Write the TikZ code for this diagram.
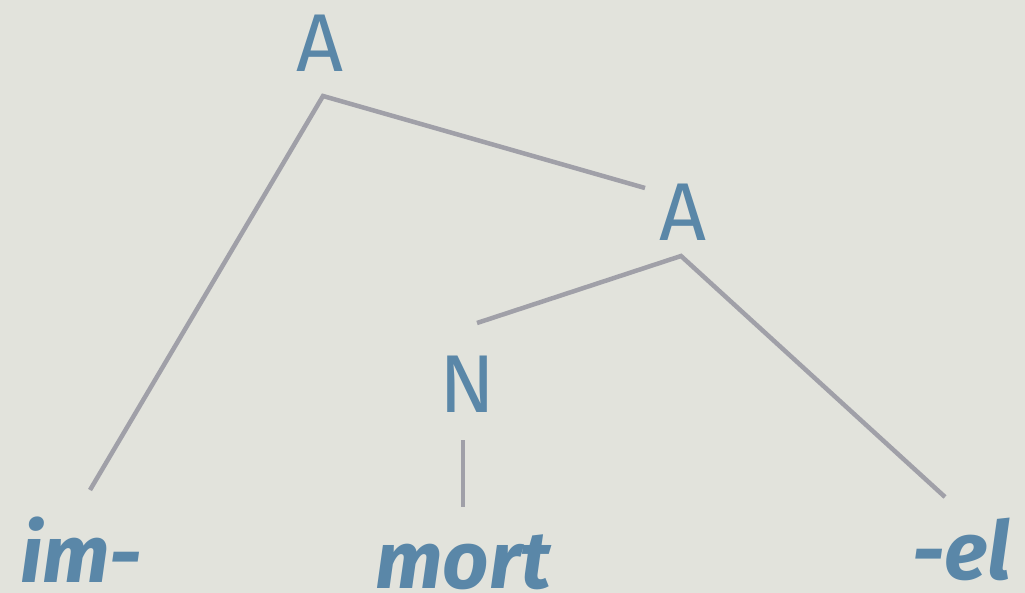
\documentclass[tikz,border=0pt]{standalone}
\usepackage{fontspec}
\setmainfont{Fira Sans}
\definecolor{bgc}{RGB}{226,227,220}
\definecolor{txc}{RGB}{90,135,168}
\definecolor{lnc}{RGB}{160,160,168}
\begin{document}
\begin{tikzpicture}[x=1pt,y=-1pt,
  cat/.style={inner sep=0pt,anchor=base,text=txc,font=\fontsize{82}{90}\selectfont},
  morph/.style={inner sep=0pt,anchor=base west,text=txc,font=\fontsize{81}{90}\selectfont\bfseries\itshape},
  branch/.style={draw=lnc,line width=4.5pt}]
\fill[bgc] (0,0) rectangle (1025,593);
\useasboundingbox (0,0) rectangle (1025,593);
\node[cat] (A1) at (320,72) {A};
\node[cat] (A2) at (683,241) {A};
\node[cat] (N) at (467,412) {N};
\node[morph] (im) at (20,582) {im-};
\node[morph] (mort) at (375,588) {mort};
\node[morph] (el) at (912,579) {-el};
\coordinate (a1b) at (323,96);
\coordinate (a2t) at (645,188);
\coordinate (a2b) at (681,256);
\coordinate (nt) at (477,323);
\coordinate (nb) at (463,440);
\coordinate (imt) at (90,490);
\coordinate (mortt) at (463,507);
\coordinate (elt) at (945,497);
\draw[branch] (imt) -- (a1b) -- (a2t);
\draw[branch] (nt) -- (a2b) -- (elt);
\draw[branch] (nb) -- (mortt);
\end{tikzpicture}
\end{document}
